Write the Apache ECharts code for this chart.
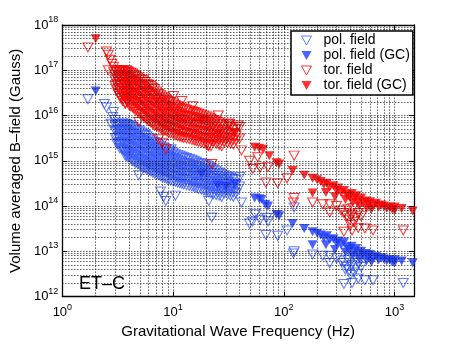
<!DOCTYPE html>
<html>
<head>
<meta charset="utf-8">
<script src="https://cdn.jsdelivr.net/npm/echarts@6/dist/echarts.min.js"></script>
<style>
html, body { margin: 0; padding: 0; background: #fff; }
#chart { width: 458px; height: 344px; }
</style>
</head>
<body>
<div id="chart"></div>
<script>
// frequency (Hz), B-field (Gauss)
var polField = [
  [1.7,2.3e16],[2.4,1.8e16],[2.5,1.5e16],[2.9,1.2e16],[2.85,9.3e15],[2.75,6.6e15],[3.0,8e15],
  [3.0,6e15],[3.0,4.5e15],[3.0,3.2e15],
  [3.1,6e15],[3.1,4.5e15],[3.1,3.2e15],[3.1,2.4e15],
  [3.2,6.5e15],[3.2,4.8e15],[3.2,3.4e15],[3.2,2.4e15],
  [3.3,6.5e15],[3.3,4.8e15],[3.3,3.5e15],[3.3,2.5e15],[3.3,1.9e15],
  [3.4,6.5e15],[3.4,5e15],[3.4,3.6e15],[3.4,2.6e15],[3.4,1.9e15],
  [3.5,6.8e15],[3.5,5e15],[3.5,3.6e15],[3.5,2.6e15],[3.5,1.8e15],
  [3.6,6.5e15],[3.6,4.7e15],[3.6,3.4e15],[3.6,2.4e15],[3.6,1.7e15],
  [3.7,6.5e15],[3.7,4.7e15],[3.7,3.3e15],[3.7,2.3e15],[3.7,1.6e15],
  [3.8,6.5e15],[3.8,4.8e15],[3.8,3.4e15],[3.8,2.4e15],[3.8,1.7e15],[3.8,1.3e15],
  [3.9,6.2e15],[3.9,4.5e15],[3.9,3.2e15],[3.9,2.3e15],[3.9,1.6e15],[3.9,1.2e15],
  [4.0,6e15],[4.0,4.4e15],[4.0,3.1e15],[4.0,2.2e15],[4.0,1.6e15],[4.0,1.2e15],
  [4.15,5.8e15],[4.15,4.2e15],[4.15,3e15],[4.15,2.1e15],[4.15,1.5e15],[4.15,1.1e15],
  [4.3,5.5e15],[4.3,4e15],[4.3,2.8e15],[4.3,2e15],[4.3,1.4e15],[4.3,1e15],
  [4.45,5.2e15],[4.45,3.8e15],[4.45,2.7e15],[4.45,1.9e15],[4.45,1.35e15],[4.45,9.5e14],
  [4.6,5e15],[4.6,3.6e15],[4.6,2.5e15],[4.6,1.8e15],[4.6,1.3e15],[4.6,9e14],
  [4.8,4.7e15],[4.8,3.4e15],[4.8,2.4e15],[4.8,1.7e15],[4.8,1.2e15],[4.8,8.5e14],
  [5.0,4.5e15],[5.0,3.2e15],[5.0,2.3e15],[5.0,1.6e15],[5.0,1.1e15],[5.0,8e14],
  [5.2,4.2e15],[5.2,3e15],[5.2,2.1e15],[5.2,1.5e15],[5.2,1.05e15],[5.2,7.5e14],
  [5.4,4e15],[5.4,2.8e15],[5.4,2e15],[5.4,1.4e15],[5.4,1e15],[5.4,7e14],
  [5.6,3.7e15],[5.6,2.7e15],[5.6,1.9e15],[5.6,1.3e15],[5.6,9.5e14],[5.6,6.8e14],
  [5.8,3.5e15],[5.8,2.5e15],[5.8,1.8e15],[5.8,1.25e15],[5.8,9e14],[5.8,6.5e14],
  [6.05,3.2e15],[6.05,2.3e15],[6.05,1.7e15],[6.05,1.2e15],[6.05,8.5e14],[6.05,6e14],
  [6.3,3e15],[6.3,2.2e15],[6.3,1.6e15],[6.3,1.1e15],[6.3,8e14],[6.3,5.8e14],
  [6.55,2.8e15],[6.55,2e15],[6.55,1.5e15],[6.55,1.05e15],[6.55,7.5e14],[6.55,5.5e14],
  [6.8,2.6e15],[6.8,1.9e15],[6.8,1.4e15],[6.8,1e15],[6.8,7.2e14],[6.8,5.2e14],
  [7.1,2.45e15],[7.1,1.8e15],[7.1,1.3e15],[7.1,9.5e14],[7.1,6.8e14],[7.1,5e14],
  [7.4,2.3e15],[7.4,1.7e15],[7.4,1.2e15],[7.4,9e14],[7.4,6.5e14],[7.4,4.8e14],
  [7.7,2.1e15],[7.7,1.6e15],[7.7,1.15e15],[7.7,8.5e14],[7.7,6.2e14],[7.7,4.6e14],
  [8.0,2e15],[8.0,1.5e15],[8.0,1.1e15],[8.0,8e14],[8.0,6e14],[8.0,4.4e14],
  [8.35,1.9e15],[8.35,1.4e15],[8.35,1.05e15],[8.35,7.8e14],[8.35,5.8e14],[8.35,4.2e14],
  [8.7,1.8e15],[8.7,1.35e15],[8.7,1e15],[8.7,7.5e14],[8.7,5.5e14],[8.7,4e14],
  [9.1,1.7e15],[9.1,1.25e15],[9.1,9.5e14],[9.1,7e14],[9.1,5.2e14],[9.1,3.8e14],
  [9.5,1.6e15],[9.5,1.2e15],[9.5,9e14],[9.5,6.8e14],[9.5,5e14],[9.5,3.7e14],
  [10,1.5e15],[10,1.15e15],[10,8.6e14],[10,6.5e14],[10,4.8e14],[10,3.5e14],
  [10.5,1.4e15],[10.5,1.1e15],[10.5,8.2e14],[10.5,6.2e14],[10.5,4.6e14],[10.5,3.4e14],
  [11,1.35e15],[11,1.05e15],[11,7.8e14],[11,6e14],[11,4.4e14],[11,3.3e14],
  [11.5,1.3e15],[11.5,1e15],[11.5,7.5e14],[11.5,5.7e14],[11.5,4.3e14],[11.5,3.2e14],
  [12,1.25e15],[12,9.5e14],[12,7.2e14],[12,5.5e14],[12,4.1e14],[12,3.1e14],
  [12.5,1.2e15],[12.5,9e14],[12.5,7e14],[12.5,5.3e14],[12.5,4e14],[12.5,3e14],
  [13.2,1.15e15],[13.2,8.8e14],[13.2,6.7e14],[13.2,5.1e14],[13.2,3.8e14],[13.2,2.9e14],
  [14,1.1e15],[14,8.5e14],[14,6.5e14],[14,5e14],[14,3.7e14],[14,2.8e14],
  [14.8,1.05e15],[14.8,8.2e14],[14.8,6.2e14],[14.8,4.8e14],[14.8,3.5e14],[14.8,2.7e14],
  [15.5,1e15],[15.5,8e14],[15.5,6e14],[15.5,4.6e14],[15.5,3.4e14],[15.5,2.6e14],
  [16.2,9.5e14],[16.2,7.5e14],[16.2,5.7e14],[16.2,4.4e14],[16.2,3.3e14],[16.2,2.5e14],
  [17,9e14],[17,7.2e14],[17,5.5e14],[17,4.2e14],[17,3.2e14],[17,2.4e14],
  [18,8.8e14],[18,6.8e14],[18,5.2e14],[18,4e14],[18,3.1e14],[18,2.3e14],
  [19,8.5e14],[19,6.5e14],[19,5e14],[19,3.8e14],[19,3e14],[19,2.2e14],
  [20,8e14],[20,6.2e14],[20,4.8e14],[20,3.6e14],[20,2.8e14],[20,2.1e14],
  [21,7.5e14],[21,5.8e14],[21,4.5e14],[21,3.5e14],[21,2.7e14],[21,2e14],
  [22,7e14],[22,5.4e14],[22,4.2e14],[22,3.3e14],[22,2.5e14],[22,1.9e14],
  [23,6.5e14],[23,5e14],[23,4e14],[23,3.1e14],[23,2.4e14],[23,1.8e14],
  [24.5,6e14],[24.5,4.6e14],[24.5,3.6e14],[24.5,2.8e14],[24.5,2.2e14],[24.5,1.75e14],
  [26,5.5e14],[26,4.3e14],[26,3.4e14],[26,2.7e14],[26,2.1e14],[26,1.7e14],
  [27.5,5.1e14],[27.5,4e14],[27.5,3.2e14],[27.5,2.5e14],[27.5,2e14],[27.5,1.6e14],
  [29,4.8e14],[29,3.8e14],[29,3e14],[29,2.4e14],[29,1.9e14],
  [31,4.5e14],[31,3.5e14],[31,2.8e14],[31,2.2e14],[31,1.8e14],
  [33,4.2e14],[33,3.3e14],[33,2.6e14],[33,2.1e14],[33,1.7e14],
  [35,4e14],[35,3.1e14],[35,2.5e14],[35,2e14],[35,1.6e14],
  [37,3.8e14],[37,3e14],[37,2.4e14],[37,1.9e14],
  [3.7,1.3e15],[4.9,4.8e14],[7.7,2.1e14],[8.6,1.3e14],[10.5,1.7e14],[9.6,1.8e15],[8.2,1.6e14],
  [22.4,5.6e13],[21,1.3e14],[31.5,4.4e14],[40,4.4e14],[40,2.7e14],[41.5,1.2e14],
  [49,4.1e13],[55,6.6e13],[61,5e13],[70,5.5e13],[72,4.6e13],[52,4.5e13],[69,2.3e13],
  [88,2.2e13],[107,2.9e13],[124,9.3e13],[124,1e13],[122,9e12],
  [182,8.5e12],[225,8e12],[260,8e12],[260,5.5e12],[300,7e12],[330,6e12],[350,5.5e12],
  [370,4.5e12],[390,3.8e12],[410,5e12],[430,3.4e12],[450,4.2e12],[380,6.5e12],[420,7e12],
  [470,5.5e12],[500,4.5e12],[349,1.9e12],[414,2e12],[470,2.5e12],[540,2.3e12],[640,2.3e12],
  [1200,2e12],[400,3e12],[360,4e12]
];
var polFieldGC = [
  [2.0,3.5e16],[18.1,5.1e14],[25.3,2.9e14],[36,3e14],[30,2.7e14],
  [54.6,1.5e14],[60,1.45e14],[63,1.4e14],[72,1e14],[68,1.1e14],[91,6.1e13],[86,6.5e13],
  [120,4.1e13],[153,3.2e13],[182,2.7e13],[182,1.4e13],[200,2.5e13],[215,2.3e13],[230,2e13],
  [245,2.2e13],[260,1.8e13],[280,1.9e13],[300,1.5e13],[310,1.7e13],[330,1.4e13],[350,1.6e13],
  [370,1.25e13],[390,1.1e13],[410,1.3e13],[430,1e13],[450,1.15e13],[470,9e12],[500,1e13],
  [520,8.5e12],[550,9e12],[580,7.5e12],[600,8.5e12],[640,7.2e12],[680,7.8e12],[720,6.5e12],
  [760,7.2e12],[800,6.8e12],[850,6.2e12],[900,6.5e12],[950,5.8e12],[1000,5.5e12],[1000,6.5e12],
  [620,5.8e12],[560,6.2e12],[480,6.8e12],[420,8e12],[360,9.5e12],[290,1.1e13],[240,1.4e13],
  [1160,6.1e12],[1460,5.6e12]
];
var torField = [
  [1.7,3.2e17],[2.5,2.6e17],[2.6,2.2e17],[2.7,1.7e17],[2.8,1.4e17],[2.9,1.2e17],[2.6,1e17],[2.9,9e16],
  [3.0,1e17],[3.0,8e16],[3.0,6e16],[3.0,4.5e16],
  [3.1,9e16],[3.1,6.8e16],[3.1,5e16],[3.1,3.6e16],
  [3.2,1e17],[3.2,7.5e16],[3.2,5.5e16],[3.2,4e16],[3.2,3e16],
  [3.3,9.5e16],[3.3,7e16],[3.3,5e16],[3.3,3.6e16],[3.3,2.7e16],
  [3.4,1e17],[3.4,8e16],[3.4,6e16],[3.4,4.5e16],[3.4,3.2e16],[3.4,2.4e16],
  [3.5,1e17],[3.5,7.5e16],[3.5,5.5e16],[3.5,4e16],[3.5,2.9e16],[3.5,2.1e16],
  [3.6,9.5e16],[3.6,7e16],[3.6,5e16],[3.6,3.5e16],[3.6,2.6e16],
  [3.7,9e16],[3.7,6.5e16],[3.7,4.7e16],[3.7,3.3e16],[3.7,2.4e16],[3.7,1.9e16],
  [3.8,1e17],[3.8,8e16],[3.8,6e16],[3.8,4.2e16],[3.8,3e16],[3.8,2.2e16],
  [3.9,9.5e16],[3.9,7e16],[3.9,5.2e16],[3.9,3.7e16],[3.9,2.7e16],[3.9,2e16],
  [4.0,9e16],[4.0,6.5e16],[4.0,4.8e16],[4.0,3.4e16],[4.0,2.4e16],[4.0,1.7e16],
  [4.15,8.8e16],[4.15,6.3e16],[4.15,4.5e16],[4.15,3.2e16],[4.15,2.3e16],[4.15,1.6e16],
  [4.3,8.5e16],[4.3,6e16],[4.3,4.3e16],[4.3,3e16],[4.3,2.1e16],[4.3,1.5e16],
  [4.45,8e16],[4.45,5.8e16],[4.45,4e16],[4.45,2.8e16],[4.45,2e16],[4.45,1.4e16],
  [4.6,7.5e16],[4.6,5.5e16],[4.6,3.8e16],[4.6,2.7e16],[4.6,1.9e16],[4.6,1.3e16],
  [4.8,7e16],[4.8,5.1e16],[4.8,3.6e16],[4.8,2.5e16],[4.8,1.75e16],[4.8,1.2e16],
  [5.0,6.5e16],[5.0,4.8e16],[5.0,3.3e16],[5.0,2.3e16],[5.0,1.6e16],[5.0,1.1e16],
  [5.2,6.2e16],[5.2,4.5e16],[5.2,3.1e16],[5.2,2.2e16],[5.2,1.5e16],[5.2,1.05e16],
  [5.4,6e16],[5.4,4.2e16],[5.4,3e16],[5.4,2e16],[5.4,1.4e16],[5.4,9.5e15],
  [5.6,5.5e16],[5.6,3.8e16],[5.6,2.7e16],[5.6,1.85e16],[5.6,1.3e16],[5.6,8.8e15],
  [5.8,5e16],[5.8,3.5e16],[5.8,2.5e16],[5.8,1.7e16],[5.8,1.2e16],[5.8,8e15],
  [6.05,4.8e16],[6.05,3.3e16],[6.05,2.3e16],[6.05,1.6e16],[6.05,1.1e16],[6.05,7.5e15],
  [6.3,4.5e16],[6.3,3e16],[6.3,2.2e16],[6.3,1.5e16],[6.3,1e16],[6.3,7e15],
  [6.55,4.1e16],[6.55,2.9e16],[6.55,2e16],[6.55,1.4e16],[6.55,9.5e15],[6.55,6.5e15],
  [6.8,3.8e16],[6.8,2.7e16],[6.8,1.9e16],[6.8,1.3e16],[6.8,9e15],[6.8,6e15],
  [7.1,3.4e16],[7.1,2.4e16],[7.1,1.75e16],[7.1,1.2e16],[7.1,8.5e15],[7.1,5.8e15],
  [7.4,3e16],[7.4,2.2e16],[7.4,1.6e16],[7.4,1.1e16],[7.4,8e15],[7.4,5.5e15],
  [7.7,2.8e16],[7.7,2e16],[7.7,1.5e16],[7.7,1.05e16],[7.7,7.5e15],[7.7,5.2e15],
  [8.0,2.6e16],[8.0,1.9e16],[8.0,1.4e16],[8.0,1e16],[8.0,7e15],[8.0,5e15],
  [8.35,2.4e16],[8.35,1.75e16],[8.35,1.3e16],[8.35,9.2e15],[8.35,6.5e15],[8.35,4.7e15],
  [8.7,2.2e16],[8.7,1.6e16],[8.7,1.2e16],[8.7,8.5e15],[8.7,6e15],[8.7,4.5e15],
  [9.1,2.1e16],[9.1,1.55e16],[9.1,1.15e16],[9.1,8.2e15],[9.1,5.8e15],[9.1,4.2e15],
  [9.5,2e16],[9.5,1.5e16],[9.5,1.1e16],[9.5,8e15],[9.5,5.5e15],[9.5,4e15],
  [10,1.85e16],[10,1.4e16],[10,1e16],[10,7.5e15],[10,5.3e15],[10,3.9e15],
  [10.5,1.7e16],[10.5,1.3e16],[10.5,9.5e15],[10.5,7e15],[10.5,5e15],[10.5,3.7e15],
  [11,1.6e16],[11,1.2e16],[11,9e15],[11,6.8e15],[11,4.8e15],[11,3.5e15],
  [11.5,1.5e16],[11.5,1.1e16],[11.5,8.5e15],[11.5,6.5e15],[11.5,4.6e15],[11.5,3.4e15],
  [12,1.45e16],[12,1.05e16],[12,8.2e15],[12,6.2e15],[12,4.4e15],[12,3.3e15],
  [12.5,1.4e16],[12.5,1e16],[12.5,8e15],[12.5,6e15],[12.5,4.3e15],[12.5,3.2e15],
  [13.2,1.35e16],[13.2,9.8e15],[13.2,7.5e15],[13.2,5.7e15],[13.2,4.1e15],[13.2,3.1e15],
  [14,1.3e16],[14,9.5e15],[14,7e15],[14,5.5e15],[14,4e15],[14,3e15],
  [14.8,1.25e16],[14.8,9.2e15],[14.8,6.8e15],[14.8,5.2e15],[14.8,3.8e15],[14.8,2.9e15],
  [15.5,1.2e16],[15.5,9e15],[15.5,6.5e15],[15.5,5e15],[15.5,3.7e15],[15.5,2.8e15],
  [16.2,1.15e16],[16.2,8.7e15],[16.2,6.3e15],[16.2,4.8e15],[16.2,3.5e15],[16.2,2.7e15],
  [17,1.1e16],[17,8.5e15],[17,6.2e15],[17,4.6e15],[17,3.4e15],[17,2.6e15],
  [18,1.05e16],[18,8.2e15],[18,6.1e15],[18,4.5e15],[18,3.3e15],[18,2.5e15],
  [19,1e16],[19,8e15],[19,6e15],[19,4.4e15],[19,3.2e15],[19,2.4e15],
  [20,9.5e15],[20,7.5e15],[20,5.7e15],[20,4.2e15],[20,3.1e15],[20,2.3e15],
  [21,9e15],[21,7e15],[21,5.5e15],[21,4e15],[21,3e15],[21,2.2e15],
  [22,8.5e15],[22,6.5e15],[22,5e15],[22,3.7e15],[22,2.8e15],[22,2.1e15],
  [23,8e15],[23,6e15],[23,4.5e15],[23,3.4e15],[23,2.6e15],
  [24.5,7.5e15],[24.5,5.5e15],[24.5,4.2e15],[24.5,3.1e15],[24.5,2.4e15],
  [26,7e15],[26,5e15],[26,3.8e15],[26,2.9e15],[26,2.2e15],
  [27.5,6.5e15],[27.5,4.7e15],[27.5,3.6e15],[27.5,2.7e15],[27.5,2.1e15],
  [29,6e15],[29,4.4e15],[29,3.4e15],[29,2.6e15],
  [31,5.8e15],[31,4.2e15],[31,3.2e15],[31,2.5e15],
  [33,5.5e15],[33,4e15],[33,3e15],[33,2.4e15],
  [35,5.2e15],[35,3.8e15],[35,2.9e15],[35,2.3e15],
  [37,5e15],[37,3.6e15],[37,2.8e15],
  [3.7,1.8e16],[4.9,7.2e15],[7.4,3e15],[8.6,1.8e15],[10.1,2.7e16],[12,2.1e16],[15,1.6e16],
  [25.6,1e16],[32.5,6.6e15],[38.6,6e15],[20.8,2.1e15],
  [22.4,8.5e14],[31.5,6.6e15],[40,5.6e15],[41.5,1.7e15],[40,3.1e15],[8,2.5e15],
  [49,1e15],[52.5,6.6e14],[58,1.2e15],[61,7e14],[72,7.2e14],[69,3.3e14],[88,3.2e14],
  [107,4.1e14],[124,1.3e15],[124,1.5e14],[122,1.2e14],
  [182,1.2e14],[225,1.1e14],[260,1.1e14],[260,7.2e13],[300,1e14],[330,8e13],[350,7e13],
  [370,6e13],[390,5e13],[410,6.5e13],[430,4.4e13],[450,5.5e13],[380,8.5e13],[420,9e13],
  [470,7e13],[500,6e13],[349,2.7e13],[414,2.9e13],[470,3.3e13],[540,3.2e13],[640,2.9e13],
  [1200,2.9e13],[400,3.8e13]
];
var torFieldGC = [
  [2.0,5e17],[17.9,7.8e15],[25.6,4e15],[36,4.2e15],
  [54.6,2e15],[60,1.9e15],[65,1.8e15],[74,1.3e15],[91,8.5e14],[86,9e14],[120,6.1e14],
  [153,4.8e14],[182,4.1e14],[182,1.95e14],[200,3.8e14],[215,3.5e14],[230,3e14],[245,3.2e14],
  [260,2.6e14],[280,2.8e14],[300,2.2e14],[310,2.5e14],[330,2e14],[350,2.2e14],[370,1.8e14],
  [390,1.6e14],[410,1.9e14],[430,1.5e14],[450,1.7e14],[470,1.3e14],[500,1.5e14],[520,1.2e14],
  [550,1.3e14],[580,1.1e14],[600,1.25e14],[640,1.05e14],[680,1.15e14],[720,9.5e13],
  [760,1.05e14],[800,1e14],[850,9e13],[900,9.5e13],[950,8.5e13],[1000,8e13],[1000,9.5e13],
  [620,8.5e13],[560,9e13],[480,1e14],[420,1.2e14],[360,1.4e14],[290,1.6e14],[240,2e14],
  [1160,8.8e13],[1460,7.8e13]
];

// dotted log grid positions
var gridX = [1,2,3,4,5,6,7,8,9,10,20,30,40,50,60,70,80,90,100,200,300,400,500,600,700,800,900,1000];
var gridY = [2e12,3e12,4e12,5e12,6e12,7e12,8e12,9e12,1e13,2e13,3e13,4e13,5e13,6e13,7e13,8e13,9e13,
  1e14,2e14,3e14,4e14,5e14,6e14,7e14,8e14,9e14,1e15,2e15,3e15,4e15,5e15,6e15,7e15,8e15,9e15,
  1e16,2e16,3e16,4e16,5e16,6e16,7e16,8e16,9e16,1e17,2e17,3e17,4e17,5e17,6e17,7e17,8e17,9e17];

var FONT = 'Liberation Sans';
var TRI = 'path://M0,0L10,0L5,9Z';
var BLUE = '#1f3dff';
var BLUE_OPEN = '#3a5cff';
var RED = '#ff0000';

var chart = echarts.init(document.getElementById('chart'));

function powLabel(v) {
  var e = Math.round(Math.log10(v));
  if (Math.abs(Math.pow(10, e) - v) / v > 1e-6) return '';
  return '{b|10}{s|' + e + '}';
}
var labelRich = {
  b: { fontFamily: FONT, fontSize: 13, color: '#000', lineHeight: 20 },
  s: { fontFamily: FONT, fontSize: 9, color: '#000', lineHeight: 9, verticalAlign: 'top' }
};

var gridLines = [];
gridX.forEach(function (v) { gridLines.push({ xAxis: v }); });
gridY.forEach(function (v) { gridLines.push({ yAxis: v }); });

function scatter(name, data, filled, color) {
  return {
    name: name,
    type: 'scatter',
    data: data,
    symbol: TRI,
    symbolSize: [10, 9],
    z: 3,
    itemStyle: filled
      ? { color: color, borderWidth: 0 }
      : { color: 'rgba(0,0,0,0)', borderColor: color, borderWidth: 1 }
  };
}

var option = {
  animation: false,
  backgroundColor: '#fff',
  grid: { left: 59, right: 44, top: 25, bottom: 39 },
  xAxis: [{
    type: 'log', logBase: 10, min: 1, max: 1500,
    name: 'Gravitational Wave Frequency (Hz)',
    nameLocation: 'middle', nameGap: 24,
    nameTextStyle: { fontFamily: FONT, fontSize: 15, color: '#000' },
    axisLine: { lineStyle: { color: '#000', width: 1.3 } },
    axisTick: { inside: true, length: 5, lineStyle: { color: '#000' } },
    axisLabel: { formatter: powLabel, rich: labelRich, margin: 6, showMaxLabel: false },
    splitLine: { show: false }
  }, {
    type: 'log', logBase: 10, min: 1, max: 1500, position: 'top',
    axisLine: { lineStyle: { color: '#000', width: 1.3 } },
    axisTick: { inside: true, length: 5, lineStyle: { color: '#000' } },
    axisLabel: { show: false },
    splitLine: { show: false }
  }],
  yAxis: [{
    type: 'log', logBase: 10, min: 1e12, max: 1e18,
    name: 'Volume averaged B\u2013field (Gauss)',
    nameLocation: 'middle', nameGap: 28,
    nameTextStyle: { fontFamily: FONT, fontSize: 15, color: '#000' },
    axisLine: { lineStyle: { color: '#000', width: 1.3 } },
    axisTick: { inside: true, length: 5, lineStyle: { color: '#000' } },
    axisLabel: { formatter: powLabel, rich: labelRich, margin: 4 },
    splitLine: { show: false }
  }, {
    type: 'log', logBase: 10, min: 1e12, max: 1e18, position: 'right',
    axisLine: { lineStyle: { color: '#000', width: 1.3 } },
    axisTick: { inside: true, length: 5, lineStyle: { color: '#000' } },
    axisLabel: { show: false },
    splitLine: { show: false }
  }],
  legend: {
    orient: 'vertical', left: 291, top: 31,
    padding: [2, 3, 2, 10], itemGap: 0, itemWidth: 24, itemHeight: 9,
    backgroundColor: '#fff', borderColor: '#000', borderWidth: 1.5,
    textStyle: { fontFamily: FONT, fontSize: 14, lineHeight: 15, color: '#000' },
    data: [
      { name: 'pol. field', icon: TRI, itemStyle: { color: 'rgba(0,0,0,0)', borderColor: BLUE_OPEN, borderWidth: 1 } },
      { name: 'pol. field (GC)', icon: TRI, itemStyle: { color: BLUE, borderWidth: 0 } },
      { name: 'tor. field', icon: TRI, itemStyle: { color: 'rgba(0,0,0,0)', borderColor: RED, borderWidth: 1 } },
      { name: 'tor. field (GC)', icon: TRI, itemStyle: { color: RED, borderWidth: 0 } }
    ],
    z: 10
  },
  graphic: [{
    type: 'text', left: 79, top: 275, z: 5,
    style: { text: 'ET\u2013C', fontFamily: FONT, fontSize: 18, fill: '#000' }
  }],
  series: [
    {
      type: 'scatter', data: [], z: 1, silent: true,
      markLine: {
        silent: true, symbol: ['none', 'none'], animation: false,
        label: { show: false },
        lineStyle: { color: '#111', width: 1, type: [1, 2] },
        emphasis: { disabled: true },
        data: gridLines
      }
    },
    scatter('pol. field', polField, false, BLUE_OPEN),
    scatter('pol. field (GC)', polFieldGC, true, BLUE),
    scatter('tor. field', torField, false, RED),
    scatter('tor. field (GC)', torFieldGC, true, RED)
  ]
};
chart.setOption(option);
</script>
</body>
</html>
